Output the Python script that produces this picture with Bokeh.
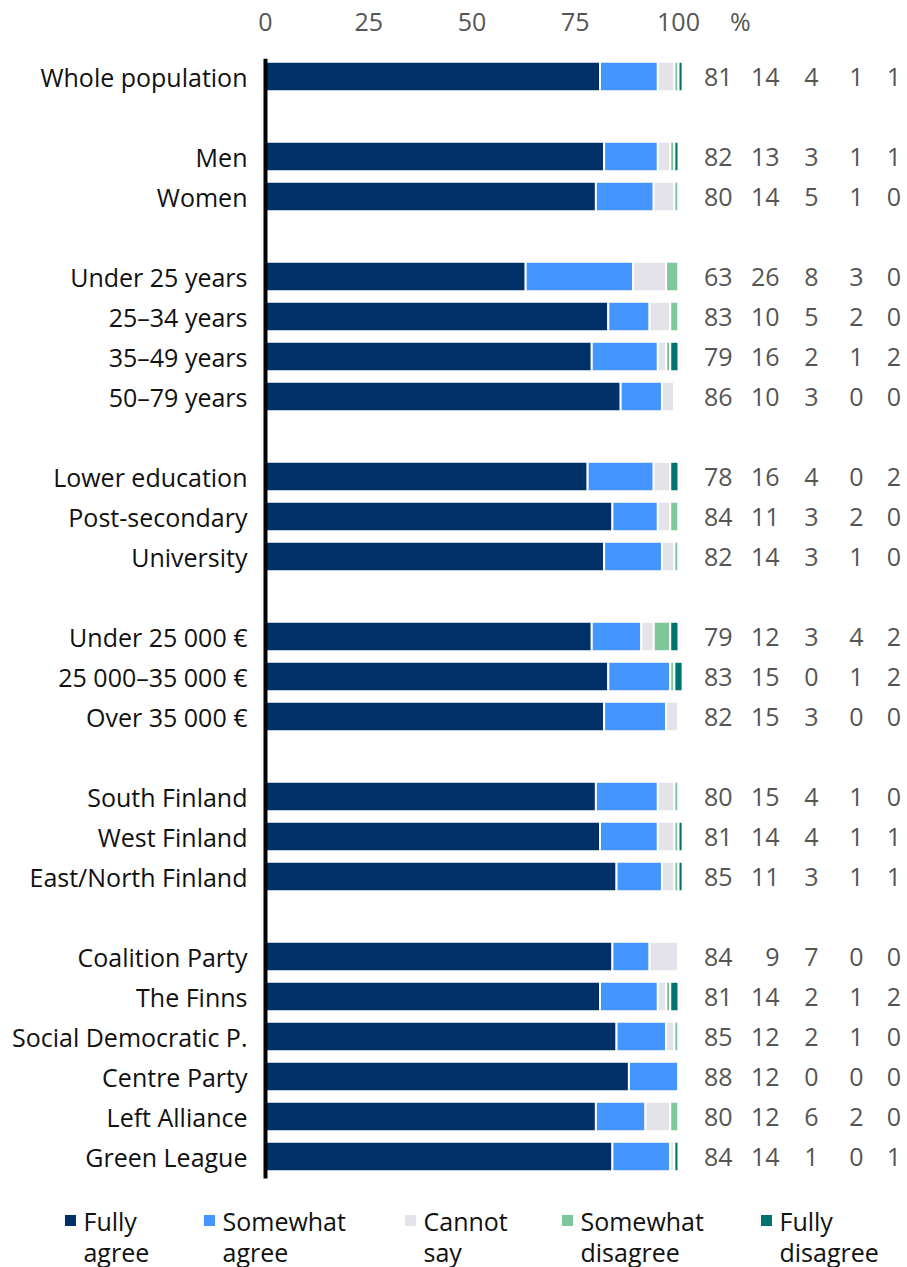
from bokeh.plotting import figure
from bokeh.models import Range1d, FixedTicker, ColumnDataSource
from bokeh.core.properties import value
from bokeh.embed import file_html
from bokeh.resources import INLINE

FONT = "Open Sans"
FS = "25px"

categories = [
    "Whole population",
    "Men", "Women",
    "Under 25 years", "25–34 years", "35–49 years", "50–79 years",
    "Lower education", "Post-secondary", "University",
    "Under 25 000 €", "25 000–35 000 €", "Over 35 000 €",
    "South Finland", "West Finland", "East/North Finland",
    "Coalition Party", "The Finns", "Social Democratic P.", "Centre Party",
    "Left Alliance", "Green League",
]
group_sizes = [1, 2, 4, 3, 3, 3, 6]

fully_agree =       [81, 82, 80, 63, 83, 79, 86, 78, 84, 82, 79, 83, 82, 80, 81, 85, 84, 81, 85, 88, 80, 84]
somewhat_agree =    [14, 13, 14, 26, 10, 16, 10, 16, 11, 14, 12, 15, 15, 15, 14, 11,  9, 14, 12, 12, 12, 14]
cannot_say =        [ 4,  3,  5,  8,  5,  2,  3,  4,  3,  3,  3,  0,  3,  4,  4,  3,  7,  2,  2,  0,  6,  1]
somewhat_disagree = [ 1,  1,  1,  3,  2,  1,  0,  0,  2,  1,  4,  1,  0,  1,  1,  1,  0,  1,  1,  0,  2,  0]
fully_disagree =    [ 1,  1,  0,  0,  0,  2,  0,  2,  0,  0,  2,  2,  0,  0,  1,  1,  0,  2,  0,  0,  0,  1]

legend_line1 = ["Fully", "Somewhat", "Cannot", "Somewhat", "Fully"]
legend_line2 = ["agree", "agree", "say", "disagree", "disagree"]
colors = ["#003068", "#4495FF", "#E5E3EA", "#7DC79A", "#00736F"]
x_ticks = [0, 25, 50, 75, 100]

# row positions: one blank row between groups
pos = []
k = 0
for g in group_sizes:
    for _ in range(g):
        pos.append(k)
        k += 1
    k += 1

keys = ["fa", "sa", "cs", "sd", "fd"]
data = dict(pos=pos, cat=categories, fa=fully_agree, sa=somewhat_agree,
            cs=cannot_say, sd=somewhat_disagree, fd=fully_disagree)
for key in keys:
    data[key + "_t"] = [str(v) for v in data[key]]
src = ColumnDataSource(data)

p = figure(width=907, height=1267, x_range=Range1d(-64.16, 155.45),
           y_range=Range1d(29.775, -0.45), output_backend="svg",
           toolbar_location=None, x_axis_location="above", y_axis_location=None,
           min_border_left=0, min_border_right=0, min_border_top=58,
           min_border_bottom=0)
p.grid.visible = False
p.outline_line_color = None

p.hbar_stack(keys, y="pos", height=0.74, color=colors, source=src,
             line_color="white", line_width=2)

# vertical baseline at zero
p.segment(x0=[0], y0=[-0.45], x1=[0], y1=[27.55], line_color="black", line_width=4)

# category labels
p.text(x=-4.36, y="pos", text="cat", source=src, text_align="right",
       text_baseline="middle", text_color="#111111",
       text_font=value(FONT), text_font_size=FS)

# value columns
col_x = [113.08, 124.46, 133.90, 144.79, 153.9]
for key, cx in zip(keys, col_x):
    p.text(x=cx, y="pos", text=key + "_t", source=src, text_align="right",
           text_baseline="middle", text_color="#555555",
           text_font=value(FONT), text_font_size=FS)

xa = p.xaxis[0]
xa.ticker = FixedTicker(ticks=x_ticks + [115])
xa.major_label_overrides = {115: "%"}
xa.axis_line_color = None
xa.major_tick_line_color = None
xa.minor_tick_line_color = None
xa.major_label_text_font = FONT
xa.major_label_text_font_size = FS
xa.major_label_text_color = "#555555"
xa.major_label_standoff = 15

# legend
text_x = [-44.07, -10.41, 38.26, 76.27, 124.46]
p.scatter(x=[t - 3.15 for t in text_x], y=[28.6] * 5, marker="square", size=11,
          color=colors, line_color=None)
p.text(x=text_x, y=[28.6] * 5, text=legend_line1, text_baseline="middle",
       text_font=value(FONT), text_font_size=FS, text_color="#111111")
p.text(x=text_x, y=[29.38] * 5, text=legend_line2, text_baseline="middle",
       text_font=value(FONT), text_font_size=FS, text_color="#111111")

open("out.html", "w").write(file_html(p, INLINE))
